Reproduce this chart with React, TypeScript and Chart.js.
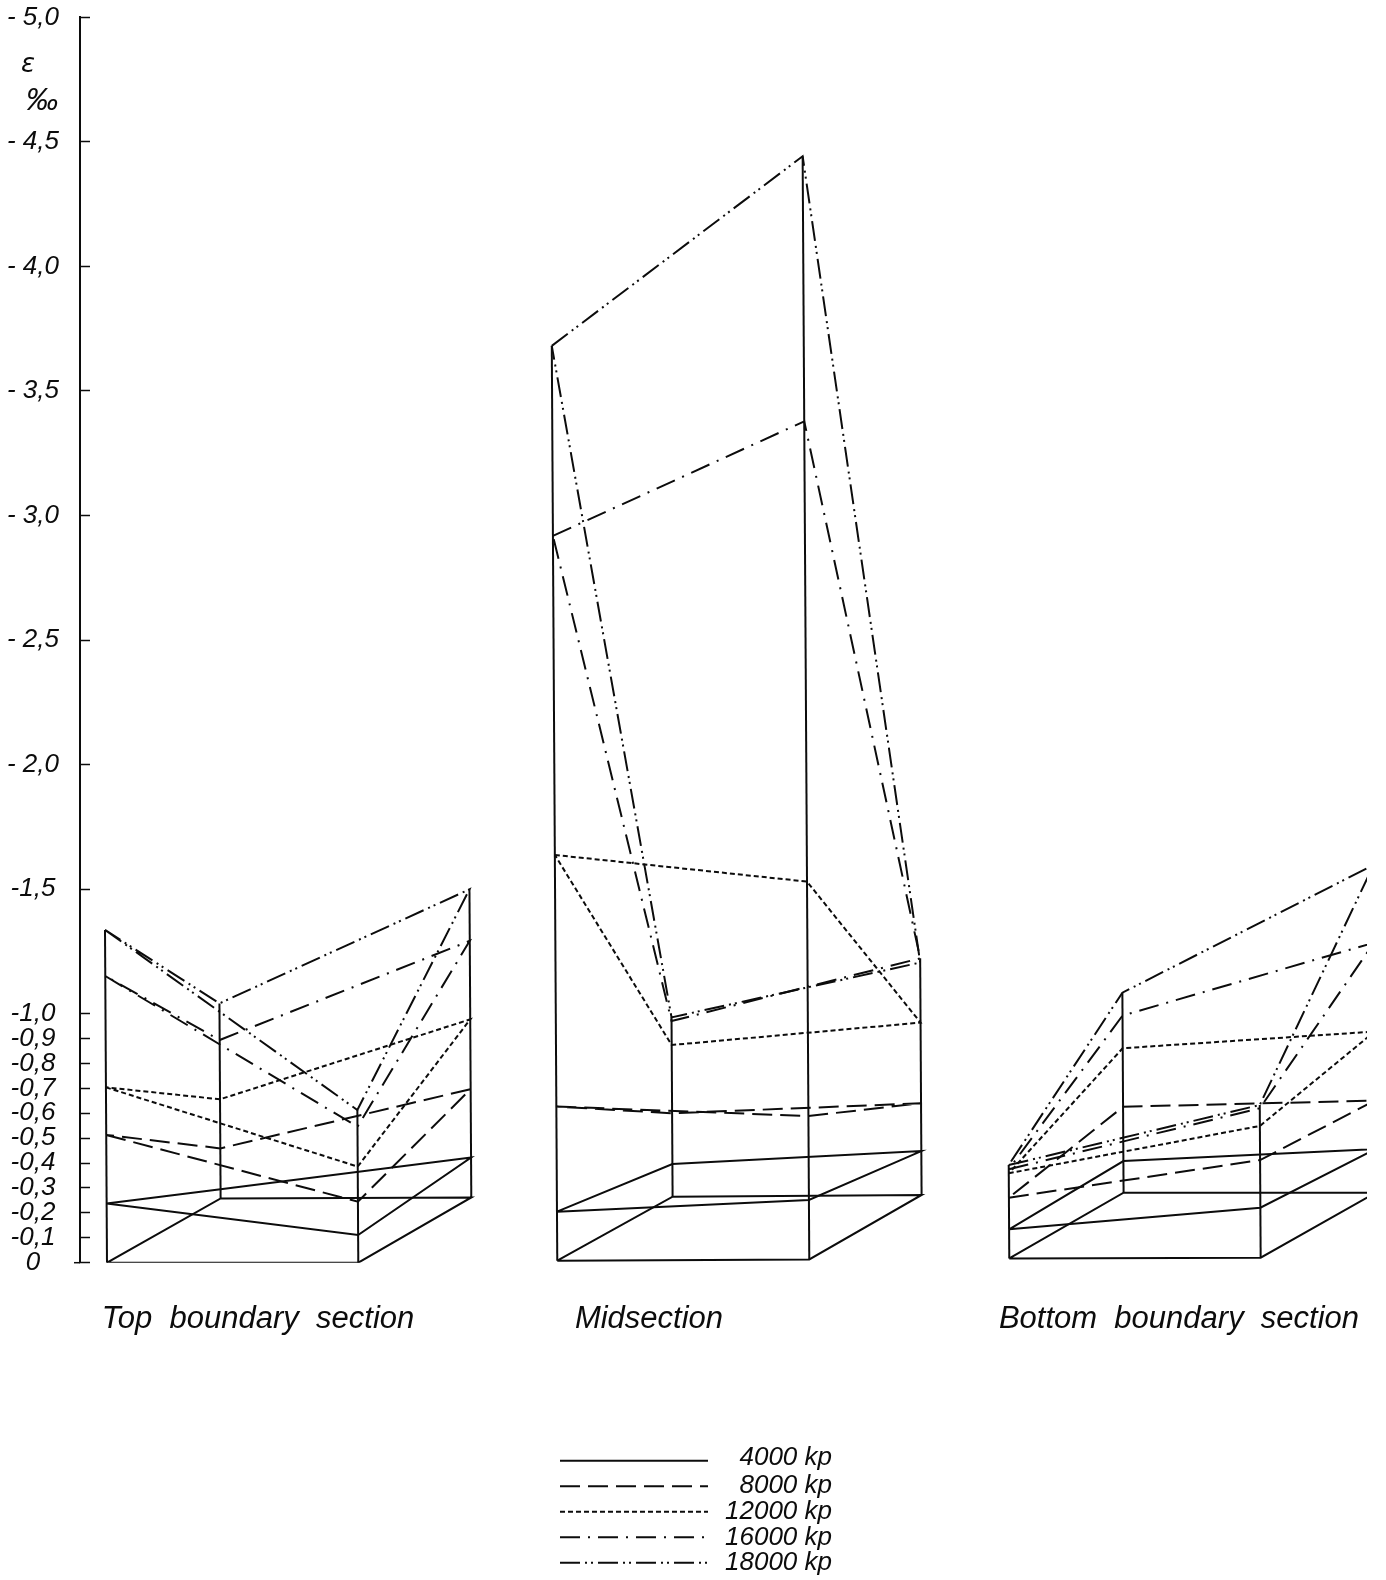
import React, { useEffect, useRef } from "react";
import { Chart, registerables } from "chart.js";

Chart.register(...registerables);

// ---- Data: axis readings in per mille; corner order: front-left, front-right, back-right, back-left
const LOADS = ["4000 kp", "8000 kp", "12000 kp", "16000 kp", "18000 kp"];
const SECTIONS = ["Top  boundary  section", "Midsection", "Bottom  boundary  section"];

const topBase = [0, 0, -0.262, -0.258];
const top4000 = [-0.238, -0.111, -0.422, -0.295];
const top8000 = [-0.513, -0.245, -0.697, -0.459];
const top12000 = [-0.704, -0.386, -0.977, -0.656];
const top16000 = [-1.151, -0.546, -1.292, -0.894];
const top18000 = [-1.336, -0.613, -1.499, -1.041];

const midBase = [-0.008, -0.013, -0.272, -0.265];
const mid4000 = [-0.205, -0.252, -0.448, -0.396];
const mid8000 = [-0.627, -0.589, -0.64, -0.6];
const mid12000 = [-1.637, -1.53, -0.964, -0.874];
const mid16000 = [-2.918, -3.378, -1.222, -0.97];
const mid18000 = [-3.681, -4.442, -1.205, -0.985];

const botBase = [-0.017, -0.02, -0.281, -0.281];
const bot4000 = [-0.134, -0.221, -0.456, -0.408];
const bot8000 = [-0.261, -0.412, -0.651, -0.626];
const bot12000 = [-0.359, -0.549, -0.928, -0.861];
const bot16000 = [-0.375, -0.62, -1.285, -0.992];
const bot18000 = [-0.392, -0.633, -1.597, -1.084];

const Y_TICKS = [-5, -4.5, -4, -3.5, -3, -2.5, -2, -1.5, -1, -0.9, -0.8, -0.7, -0.6, -0.5, -0.4, -0.3, -0.2, -0.1, 0];
const Y_LABELS = ["- 5,0", "- 4,5", "- 4,0", "- 3,5", "- 3,0", "- 2,5", "- 2,0", "-1,5", "-1,0", "-0,9", "-0,8", "-0,7", "-0,6", "-0,5", "-0,4", "-0,3", "-0,2", "-0,1", "0"];

// ---- Layout and styles
const W = 1386;
const H = 1580;
const INK = "#0c0c0c";
const FONT = "Liberation Sans";
const CORNER_X = [
  [107, 358.3, 471.7, 221],
  [557.3, 809.3, 922, 673],
  [1009.3, 1260.7, 1376, 1124],
];
const LABEL_X = [258, 649, 1179];
const TILT = 1.5;
const DASHES: number[][] = [[], [20, 8], [5, 3], [20, 8, 2, 8], [20, 5, 2, 4, 2, 5]];
const KEY_TEXT_DY = [4, 7, 7, 8, 7];

const bases = [topBase, midBase, botBase];
const loadsBySection = [
  [top4000, top8000, top12000, top16000, top18000],
  [mid4000, mid8000, mid12000, mid16000, mid18000],
  [bot4000, bot8000, bot12000, bot16000, bot18000],
];

const cornerPoint = (s: number, c: number, v: number) => ({ x: CORNER_X[s][c] + TILT * v, y: v });
const loop = (s: number, vals: number[]) => [0, 1, 2, 3, 0].map((c) => cornerPoint(s, c, vals[c]));

function buildDatasets() {
  const out: any[] = [];
  const line = (label: string, data: any[], dash: number[]) => ({
    label,
    data,
    borderColor: INK,
    borderWidth: 2,
    borderDash: dash,
    pointRadius: 0,
    showLine: true,
    tension: 0,
    fill: false,
  });
  SECTIONS.forEach((name, s) => {
    out.push(line(name + " base", loop(s, bases[s]), []));
    [0, 1, 2, 3].forEach((c) => {
      const top = Math.min(...loadsBySection[s].map((vals) => vals[c]));
      out.push(line(name + " edge", [cornerPoint(s, c, bases[s][c]), cornerPoint(s, c, top)], []));
    });
    loadsBySection[s].forEach((vals, l) => out.push(line(name + " " + LOADS[l], loop(s, vals), DASHES[l])));
  });
  return out;
}

const notes = {
  id: "notes",
  afterDraw(chart: any) {
    const { ctx, scales } = chart;
    ctx.save();
    ctx.fillStyle = INK;
    ctx.strokeStyle = INK;
    // unit marks by the axis
    ctx.textAlign = "center";
    ctx.textBaseline = "alphabetic";
    ctx.font = `italic 26px "DejaVu Sans"`;
    ctx.fillText("ε", 28, 72);
    ctx.font = `italic 32px ${FONT}`;
    ctx.fillText("‰", 42, 110);
    // foot of the axis
    const y0 = scales.y.getPixelForValue(0);
    ctx.lineWidth = 1.5;
    ctx.beginPath();
    ctx.moveTo(74, y0);
    ctx.lineTo(80, y0);
    ctx.stroke();
    // key
    LOADS.forEach((label, i) => {
      const y = 1460.7 + i * 25.5;
      ctx.lineWidth = 2;
      ctx.setLineDash(DASHES[i]);
      ctx.beginPath();
      ctx.moveTo(560, y);
      ctx.lineTo(708, y);
      ctx.stroke();
      ctx.setLineDash([]);
      ctx.font = `italic 26px ${FONT}`;
      ctx.textAlign = "right";
      ctx.fillText(label, 832, y + KEY_TEXT_DY[i]);
    });
    ctx.restore();
  },
};

export default function App() {
  const ref = useRef<HTMLCanvasElement>(null);
  useEffect(() => {
    if (!ref.current) return;
    const chart = new Chart(ref.current, {
      type: "scatter",
      data: { datasets: buildDatasets() },
      plugins: [notes],
      options: {
        animation: false,
        responsive: false,
        devicePixelRatio: 1,
        layout: { autoPadding: false, padding: { top: 17.3, right: 19, bottom: 0, left: 0 } },
        plugins: { legend: { display: false }, tooltip: { enabled: false } },
        scales: {
          x: {
            type: "linear",
            min: 80,
            max: 1367,
            grid: { display: false },
            border: { display: false },
            afterBuildTicks: (scale: any) => {
              scale.ticks = LABEL_X.map((value) => ({ value }));
            },
            afterFit: (scale: any) => {
              scale.height = 317.3;
              scale.paddingLeft = 0;
              scale.paddingRight = 0;
              scale.paddingTop = 0;
              scale.paddingBottom = 0;
            },
            ticks: {
              autoSkip: false,
              maxRotation: 0,
              minRotation: 0,
              padding: 30,
              color: INK,
              font: { family: FONT, size: 31, style: "italic" },
              callback: (_v: any, i: number) => SECTIONS[i],
            },
          },
          y: {
            type: "linear",
            min: -5,
            max: 0,
            reverse: true,
            border: { color: INK, width: 2 },
            grid: { drawOnChartArea: false, drawTicks: true, tickLength: -10, tickWidth: 1.5, tickColor: INK },
            afterBuildTicks: (scale: any) => {
              scale.ticks = Y_TICKS.map((value) => ({ value }));
            },
            afterFit: (scale: any) => {
              scale.width = 80;
              scale.paddingLeft = 0;
              scale.paddingRight = 0;
              scale.paddingTop = 0;
              scale.paddingBottom = 0;
            },
            ticks: {
              autoSkip: false,
              crossAlign: "center",
              padding: 31,
              color: INK,
              font: { family: FONT, size: 26, style: "italic" },
              callback: (_v: any, i: number) => Y_LABELS[i],
            },
          },
        },
      } as any,
    });
    return () => chart.destroy();
  }, []);
  return (
    <div style={{ position: "fixed", left: 0, top: 0, width: W, height: H, background: "#fff" }}>
      <canvas ref={ref} width={W} height={H} style={{ display: "block" }} />
    </div>
  );
}
